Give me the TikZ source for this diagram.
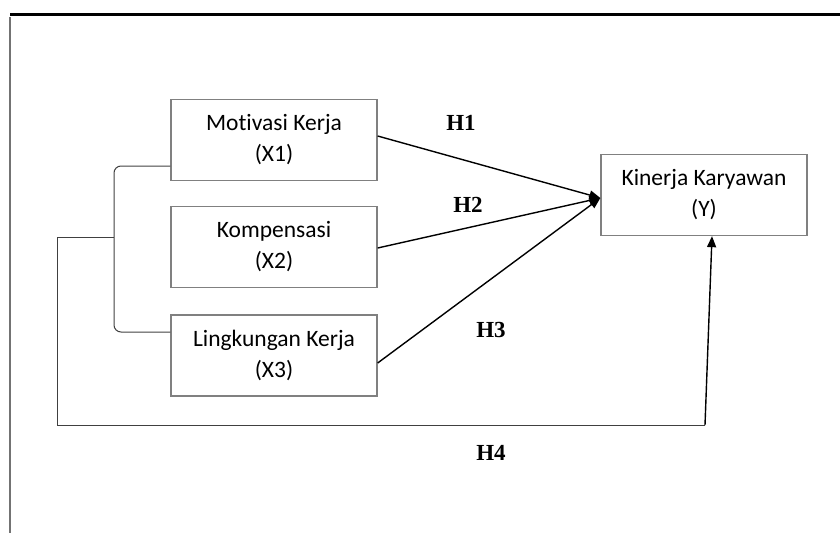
\documentclass[tikz,border=0pt]{standalone}
\usepackage{fontspec}
\setmainfont[Ligatures=NoCommon]{Carlito}
\newfontfamily\hfont{Liberation Serif}
\usepackage{tikz}
\usetikzlibrary{arrows.meta, positioning, calc}

\begin{document}
\begin{tikzpicture}[
  x=1pt, y=-1pt,
  var/.style={rectangle, draw=black!50, line width=1.3pt,
    minimum width=206pt, minimum height=81pt, align=center,
    font=\fontsize{23.5}{31}\selectfont, inner sep=2pt},
  hyp/.style={font=\hfont\bfseries\fontsize{23}{23}\selectfont},
  arr/.style={-{Triangle[length=11pt, width=9pt]}, black, line width=1.4pt},
  brk/.style={draw=black!75, line width=1pt, rounded corners=7pt}
]
\useasboundingbox (0,0) rectangle (840,533);

%% frame
\draw[black, line width=3pt] (10,14) -- (840,14);
\draw[black!55, line width=1.5pt] (10,17) -- (10,533);

%% variables
\node[var] (motivasi)  at (274,140)   {Motivasi Kerja\\(X1)};
\node[var] (kompensasi) at (274,247)  {Kompensasi\\(X2)};
\node[var] (lingkungan) at (274,355.5) {Lingkungan Kerja\\(X3)};
\node[var] (kinerja)   at (704,195)   {Kinerja Karyawan\\(Y)};

%% bracket joining X1..X3
\coordinate (jtop) at ($(motivasi.west)+(0,26)$);
\coordinate (jbot) at ($(lingkungan.west)+(0,-23.5)$);
\coordinate (jmid) at (114,237);
\draw[brk] (jtop) -- (114,166) -- (114,332) -- (jbot);
\draw[black!75, line width=1pt] (jmid) -- (57,237) -- (57,425) -- (705,425) coordinate (turn);

%% partial paths
\coordinate (hit) at ($(kinerja.west)+(0,3)$);
\draw[arr] ($(motivasi.east)+(0,-4)$)  -- (hit);
\draw[arr] ($(kompensasi.east)+(0,1)$) -- (hit);
\draw[arr] ($(lingkungan.east)+(0,7.5)$) -- (hit);

%% simultaneous path
\draw[arr] (turn) -- ($(kinerja.south)+(8,0)$);

%% labels
\node[hyp] (h1) at (461,123) {H1};
\node[hyp] (h2) at (468,205) {H2};
\node[hyp] (h3) at (491,330) {H3};
\node[hyp] (h4) at (491,453) {H4};

\end{tikzpicture}
\end{document}
